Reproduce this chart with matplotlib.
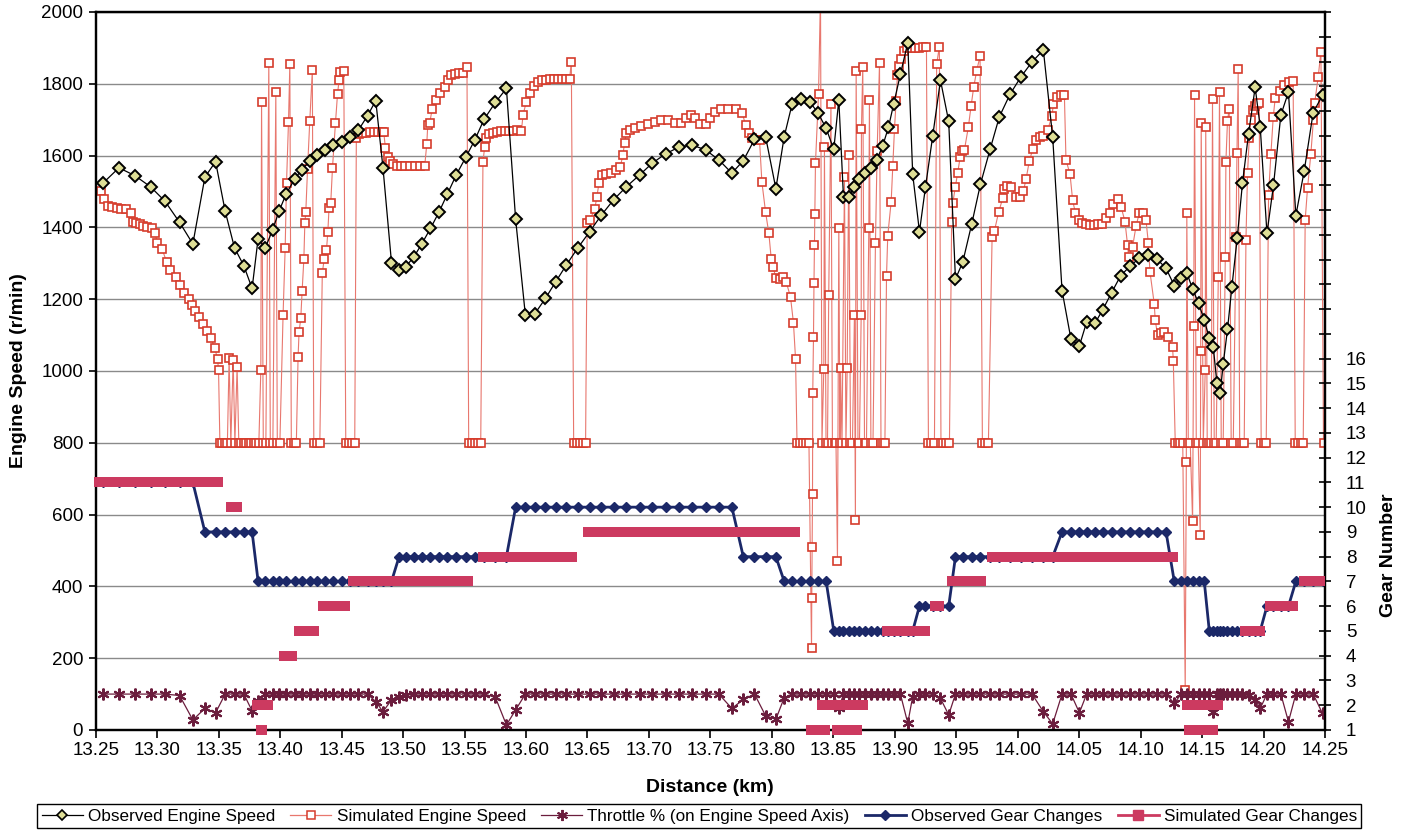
## Engine speed / gear change comparison, observed vs simulated
import numpy as np
import matplotlib
matplotlib.use('Agg')
import matplotlib.pyplot as plt
from matplotlib.lines import Line2D
from matplotlib.ticker import FixedLocator, FuncFormatter

plt.rcParams['font.family'] = ['Liberation Sans', 'DejaVu Sans']

## Observed data (distance km, engine speed r/min, gear, throttle %)
obs_km = [
    13.2561, 13.2689, 13.2819, 13.2946, 13.3063, 13.3182, 13.3290,
    13.3388, 13.3475, 13.3553, 13.3629, 13.3705, 13.3772,
    13.3821, 13.3878, 13.3938, 13.3992, 13.4049, 13.4117, 13.4176, 13.4241, 13.4304,
    13.4369, 13.4431, 13.4502, 13.4569, 13.4637, 13.4711, 13.4778, 13.4837, 13.4906,
    13.4968, 13.5022, 13.5087, 13.5152, 13.5223, 13.5293, 13.5361, 13.5434, 13.5510,
    13.5583, 13.5659, 13.5751, 13.5841,
    13.5916, 13.5995, 13.6073, 13.6158, 13.6241, 13.6328, 13.6420, 13.6518, 13.6613,
    13.6713, 13.6816, 13.6924, 13.7028, 13.7136, 13.7247, 13.7353, 13.7461, 13.7569, 13.7675,
    13.7768, 13.7859, 13.7949, 13.8033,
    13.8101, 13.8166, 13.8239, 13.8307, 13.8374, 13.8442,
    13.8504, 13.8545, 13.8583, 13.8624, 13.8672, 13.8713, 13.8759, 13.8808, 13.8854,
    13.8902, 13.8949, 13.8992, 13.9046, 13.9106, 13.9146,
    13.9201, 13.9250, 13.9309, 13.9372, 13.9439,
    13.9494, 13.9553, 13.9626, 13.9697, 13.9776, 13.9851, 13.9938, 14.0028, 14.0117,
    14.0209, 14.0285,
    14.0361, 14.0434, 14.0502, 14.0561, 14.0629, 14.0691, 14.0764, 14.0837, 14.0914,
    14.0989, 14.1063, 14.1136, 14.1207,
    14.1274, 14.1329, 14.1377, 14.1423, 14.1472, 14.1518,
    14.1559, 14.1591, 14.1621, 14.1648, 14.1672, 14.1707, 14.1743, 14.1786, 14.1829,
    14.1878, 14.1932, 14.1973,
    14.2028, 14.2081, 14.2141, 14.2203,
    14.2263, 14.2331, 14.2404, 14.2480,
]
obs_rpm = [
    1524, 1566, 1544, 1513, 1473, 1414, 1354,
    1540, 1583, 1445, 1343, 1293, 1230,
    1369, 1342, 1392, 1446, 1493, 1534, 1561, 1584, 1602,
    1616, 1630, 1637, 1653, 1671, 1711, 1753, 1565, 1302,
    1281, 1291, 1317, 1354, 1397, 1443, 1493, 1547, 1595,
    1643, 1701, 1748, 1787,
    1422, 1156, 1160, 1202, 1248, 1295, 1342, 1388, 1434,
    1477, 1513, 1546, 1579, 1605, 1624, 1629, 1616, 1588, 1551,
    1586, 1645, 1653, 1508,
    1653, 1745, 1757, 1750, 1720, 1676,
    1617, 1755, 1484, 1486, 1513, 1534, 1551, 1565, 1589,
    1627, 1679, 1745, 1827, 1914, 1548,
    1388, 1512, 1655, 1810, 1695,
    1256, 1303, 1409, 1520, 1618, 1708, 1771, 1820, 1861,
    1894, 1651,
    1224, 1088, 1070, 1136, 1133, 1170, 1218, 1265, 1292,
    1314, 1323, 1311, 1286,
    1238, 1258, 1272, 1229, 1188, 1142,
    1091, 1068, 966, 940, 1019, 1116, 1235, 1370, 1524,
    1660, 1790, 1681,
    1383, 1517, 1713, 1777,
    1433, 1557, 1720, 1768,
]
obs_gear = [
    11, 11, 11, 11, 11, 11, 11,
    9, 9, 9, 9, 9, 9,
    7, 7, 7, 7, 7, 7, 7, 7, 7,
    7, 7, 7, 7, 7, 7, 7, 7, 7,
    8, 8, 8, 8, 8, 8, 8, 8, 8,
    8, 8, 8, 8,
    10, 10, 10, 10, 10, 10, 10, 10, 10,
    10, 10, 10, 10, 10, 10, 10, 10, 10, 10,
    8, 8, 8, 8,
    7, 7, 7, 7, 7, 7,
    5, 5, 5, 5, 5, 5, 5, 5, 5,
    5, 5, 5, 5, 5, 5,
    6, 6, 6, 6, 6,
    8, 8, 8, 8, 8, 8, 8, 8, 8,
    8, 8,
    9, 9, 9, 9, 9, 9, 9, 9, 9,
    9, 9, 9, 9,
    7, 7, 7, 7, 7, 7,
    5, 5, 5, 5, 5, 5, 5, 5, 5,
    5, 5, 5,
    6, 6, 6, 6,
    7, 7, 7, 7,
]
throttle_pct = [
    100, 100, 100, 100, 100, 96, 28,
    60, 48, 100, 100, 100, 53,
    80, 100, 100, 100, 100, 100, 100, 100, 100,
    100, 100, 100, 100, 100, 100, 79, 51, 84,
    91, 97, 100, 100, 100, 100, 100, 100, 100,
    100, 100, 91, 14,
    56, 100, 100, 100, 100, 100, 100, 100, 100,
    100, 100, 100, 100, 100, 100, 100, 100, 100, 60,
    85, 100, 40, 30,
    90, 100, 100, 100, 100, 100,
    100, 60, 100, 100, 100, 100, 100, 100, 100,
    100, 100, 100, 100, 19, 93,
    100, 100, 100, 88, 42,
    100, 100, 100, 100, 100, 100, 100, 100, 100,
    51, 17,
    100, 100, 48, 100, 100, 100, 100, 100, 100,
    100, 100, 100, 100,
    74, 100, 100, 100, 100, 100,
    100, 51, 100, 100, 100, 100, 100, 100, 100,
    97, 84, 60,
    100, 100, 100, 23,
    100, 100, 100, 46,
]

## Simulated engine speed (distance km, r/min)
sim_km = [
    13.2507, 13.2540, 13.2567, 13.2597, 13.2632, 13.2670, 13.2705, 13.2746, 13.2786, 13.2800,
    13.2827, 13.2859, 13.2888, 13.2914, 13.2954, 13.2984, 13.3000, 13.3041, 13.3076, 13.3103,
    13.3150, 13.3185, 13.3217, 13.3255, 13.3280, 13.3306, 13.3337, 13.3374, 13.3402, 13.3437,
    13.3469, 13.3491, 13.3499, 13.3510, 13.3530, 13.3550, 13.3571, 13.3585, 13.3599, 13.3618,
    13.3632, 13.3650, 13.3664, 13.3685, 13.3705, 13.3725, 13.3746, 13.3766, 13.3786, 13.3807,
    13.3827, 13.3843, 13.3849, 13.3863, 13.3884, 13.3908, 13.3920, 13.3941, 13.3965, 13.3977,
    13.3998, 13.4024, 13.4041, 13.4052, 13.4068, 13.4079, 13.4091, 13.4111, 13.4132, 13.4146,
    13.4154, 13.4168, 13.4179, 13.4193, 13.4201, 13.4209, 13.4223, 13.4241, 13.4262, 13.4274,
    13.4298, 13.4323, 13.4343, 13.4358, 13.4377, 13.4388, 13.4398, 13.4412, 13.4426, 13.4450,
    13.4467, 13.4480, 13.4491, 13.4518, 13.4534, 13.4559, 13.4583, 13.4607, 13.4620, 13.4640,
    13.4664, 13.4697, 13.4729, 13.4762, 13.4794, 13.4827, 13.4843, 13.4857, 13.4878, 13.4892,
    13.4916, 13.4949, 13.4981, 13.5014, 13.5054, 13.5095, 13.5136, 13.5176, 13.5193, 13.5201,
    13.5217, 13.5236, 13.5272, 13.5298, 13.5339, 13.5366, 13.5394, 13.5420, 13.5453, 13.5485,
    13.5520, 13.5534, 13.5559, 13.5583, 13.5607, 13.5632, 13.5650, 13.5664, 13.5678, 13.5697,
    13.5729, 13.5762, 13.5794, 13.5827, 13.5859, 13.5892, 13.5924, 13.5963, 13.5976, 13.6003,
    13.6030, 13.6063, 13.6098, 13.6128, 13.6160, 13.6193, 13.6225, 13.6258, 13.6290, 13.6323,
    13.6355, 13.6369, 13.6388, 13.6412, 13.6437, 13.6461, 13.6485, 13.6498, 13.6518, 13.6559,
    13.6577, 13.6594, 13.6621, 13.6654, 13.6694, 13.6735, 13.6767, 13.6789, 13.6802, 13.6816,
    13.6843, 13.6884, 13.6938, 13.6992, 13.7046, 13.7101, 13.7154, 13.7209, 13.7263, 13.7304,
    13.7345, 13.7372, 13.7412, 13.7467, 13.7499, 13.7534, 13.7589, 13.7642, 13.7711, 13.7759,
    13.7786, 13.7813, 13.7841, 13.7873, 13.7900, 13.7919, 13.7949, 13.7976, 13.7995, 13.8008,
    13.8036, 13.8063, 13.8089, 13.8117, 13.8152, 13.8176, 13.8193, 13.8205, 13.8229, 13.8254,
    13.8278, 13.8302, 13.8323, 13.8325, 13.8328, 13.8331, 13.8333, 13.8339, 13.8343, 13.8347,
    13.8351, 13.8355, 13.8380, 13.8396, 13.8408, 13.8423, 13.8428, 13.8441, 13.8453, 13.8463,
    13.8481, 13.8493, 13.8510, 13.8522, 13.8534, 13.8545, 13.8554, 13.8559, 13.8571, 13.8591,
    13.8603, 13.8613, 13.8626, 13.8640, 13.8656, 13.8672, 13.8680, 13.8686, 13.8701, 13.8713,
    13.8727, 13.8729, 13.8740, 13.8754, 13.8770, 13.8789, 13.8794, 13.8806, 13.8823, 13.8843,
    13.8857, 13.8876, 13.8888, 13.8904, 13.8920, 13.8933, 13.8943, 13.8971, 13.8984, 13.8998,
    13.9011, 13.9022, 13.9038, 13.9054, 13.9079, 13.9103, 13.9136, 13.9168, 13.9201, 13.9233,
    13.9258, 13.9274, 13.9298, 13.9323, 13.9341, 13.9363, 13.9376, 13.9396, 13.9420, 13.9445,
    13.9463, 13.9472, 13.9493, 13.9512, 13.9532, 13.9545, 13.9567, 13.9599, 13.9621, 13.9642,
    13.9667, 13.9694, 13.9713, 13.9737, 13.9762, 13.9792, 13.9810, 13.9845, 13.9878, 13.9892,
    13.9916, 13.9946, 13.9987, 14.0022, 14.0046, 14.0068, 14.0095, 14.0122, 14.0150, 14.0182,
    14.0209, 14.0244, 14.0280, 14.0290, 14.0320, 14.0353, 14.0380, 14.0393, 14.0426, 14.0447,
    14.0469, 14.0496, 14.0526, 14.0558, 14.0591, 14.0624, 14.0656, 14.0689, 14.0719, 14.0751,
    14.0778, 14.0813, 14.0841, 14.0873, 14.0894, 14.0902, 14.0935, 14.0963, 14.0989, 14.1022,
    14.1044, 14.1063, 14.1076, 14.1111, 14.1119, 14.1138, 14.1168, 14.1193, 14.1219, 14.1260,
    14.1266, 14.1282, 14.1302, 14.1323, 14.1343, 14.1363, 14.1372, 14.1376, 14.1388, 14.1404,
    14.1423, 14.1432, 14.1439, 14.1453, 14.1469, 14.1485, 14.1489, 14.1493, 14.1510, 14.1526,
    14.1530, 14.1542, 14.1558, 14.1575, 14.1585, 14.1599, 14.1615, 14.1632, 14.1642, 14.1656,
    14.1672, 14.1689, 14.1694, 14.1707, 14.1721, 14.1737, 14.1754, 14.1776, 14.1784, 14.1794,
    14.1806, 14.1827, 14.1843, 14.1857, 14.1870, 14.1884, 14.1897, 14.1911, 14.1932, 14.1949,
    14.1965, 14.1981, 14.2002, 14.2022, 14.2041, 14.2060, 14.2079, 14.2095, 14.2133, 14.2168,
    14.2209, 14.2241, 14.2258, 14.2282, 14.2306, 14.2323, 14.2339, 14.2358, 14.2385, 14.2406,
    14.2416, 14.2445, 14.2467, 14.2488,
]
sim_rpm = [
    1513, 1501, 1479, 1460, 1456, 1454, 1452, 1451, 1440, 1416,
    1413, 1410, 1405, 1402, 1398, 1383, 1356, 1339, 1304, 1281,
    1261, 1240, 1216, 1200, 1184, 1167, 1151, 1131, 1110, 1091,
    1063, 1033, 1003, 800, 800, 800, 800, 1035, 800, 1030,
    800, 1012, 800, 800, 800, 800, 800, 800, 800, 800,
    800, 1003, 1750, 800, 800, 1857, 800, 800, 1778, 800,
    800, 1156, 1342, 1523, 1693, 1854, 800, 800, 800, 1038,
    1108, 1147, 1223, 1311, 1411, 1444, 1562, 1695, 1838, 800,
    800, 800, 1272, 1311, 1337, 1386, 1455, 1469, 1566, 1690,
    1772, 1811, 1834, 1837, 800, 800, 800, 800, 1650, 1660,
    1663, 1664, 1665, 1665, 1666, 1666, 1665, 1620, 1595, 1585,
    1576, 1572, 1571, 1570, 1570, 1570, 1570, 1570, 1632, 1685,
    1690, 1729, 1755, 1775, 1792, 1811, 1824, 1828, 1830, 1831,
    1848, 800, 800, 800, 800, 800, 1581, 1625, 1650, 1660,
    1664, 1667, 1668, 1669, 1669, 1669, 1670, 1668, 1713, 1750,
    1773, 1794, 1806, 1810, 1811, 1812, 1812, 1812, 1813, 1813,
    1813, 1862, 800, 800, 800, 800, 800, 1412, 1420, 1450,
    1486, 1523, 1546, 1550, 1552, 1560, 1569, 1602, 1636, 1662,
    1671, 1678, 1682, 1688, 1694, 1699, 1699, 1692, 1690, 1706,
    1713, 1704, 1688, 1688, 1706, 1722, 1729, 1729, 1731, 1720,
    1685, 1662, 1648, 1643, 1643, 1527, 1443, 1383, 1313, 1290,
    1258, 1255, 1262, 1248, 1206, 1134, 1034, 800, 800, 800,
    800, 800, 228, 368, 509, 658, 938, 1096, 1245, 1351,
    1437, 1578, 1772, 2050, 800, 1005, 1625, 800, 800, 1212,
    1743, 800, 800, 800, 472, 1397, 800, 1007, 800, 1541,
    800, 1007, 1602, 800, 800, 1156, 584, 1837, 800, 800,
    1156, 1673, 1848, 800, 800, 1397, 1755, 800, 800, 1357,
    1614, 1857, 800, 800, 800, 1264, 1376, 1472, 1571, 1675,
    1752, 1825, 1850, 1870, 1890, 1900, 1900, 1901, 1901, 1902,
    1902, 800, 800, 800, 1855, 1903, 800, 800, 800, 800,
    1416, 1467, 1513, 1552, 1595, 1612, 1616, 1680, 1738, 1790,
    1837, 1877, 800, 800, 800, 1374, 1389, 1442, 1481, 1506,
    1515, 1513, 1486, 1486, 1500, 1534, 1585, 1617, 1643, 1653,
    1655, 1671, 1711, 1744, 1764, 1770, 1770, 1588, 1548, 1476,
    1441, 1420, 1412, 1410, 1408, 1408, 1409, 1410, 1425, 1439,
    1465, 1478, 1458, 1416, 1351, 1318, 1346, 1404, 1439, 1439,
    1420, 1357, 1277, 1187, 1142, 1100, 1105, 1109, 1096, 1068,
    1029, 800, 800, 800, 800, 110, 747, 1439, 800, 800,
    582, 1125, 1770, 800, 800, 542, 1056, 1690, 800, 1004,
    1680, 800, 800, 800, 1759, 800, 800, 1262, 1776, 800,
    800, 1318, 1583, 1697, 1731, 800, 800, 1372, 1606, 1840,
    800, 800, 800, 1365, 1551, 1648, 1699, 1727, 1738, 1744,
    1746, 800, 800, 800, 1490, 1604, 1707, 1760, 1781, 1797,
    1806, 1808, 800, 800, 800, 800, 1421, 1509, 1604, 1699,
    1746, 1820, 1889, 800,
]

## Simulated gear: runs of the same gear (start km, end km, gear)
sim_gear_start = [
    13.2530, 13.3599, 13.3693, 13.3732, 13.3767, 13.3794, 13.3802, 13.3808, 13.3821, 13.3815,
    13.3843, 13.3965, 13.4034, 13.4156, 13.4347, 13.4591, 13.5648, 13.6502, 13.8241, 13.8258,
    13.8282, 13.8290, 13.8294, 13.8298, 13.8306, 13.8315, 13.8412, 13.8518, 13.8534, 13.8794,
    13.8867, 13.8941, 13.9331, 13.9469, 13.9794, 14.1331, 14.1343, 14.1347, 14.1355, 14.1367,
    14.1376, 14.1392, 14.1707, 14.1776, 14.1851, 14.2054, 14.2327,
]
sim_gear_end = [
    13.3498, 13.3648, 13.3693, 13.3732, 13.3767, 13.3794, 13.3802, 13.3808, 13.3821, 13.3904,
    13.3851, 13.3965, 13.4095, 13.4274, 13.4526, 13.5526, 13.6372, 13.8189, 13.8241, 13.8258,
    13.8282, 13.8290, 13.8294, 13.8298, 13.8306, 13.8433, 13.8745, 13.8518, 13.8689, 13.8794,
    13.8867, 13.9246, 13.9363, 13.9705, 14.1266, 14.1331, 14.1343, 14.1347, 14.1355, 14.1367,
    14.1628, 14.1587, 14.1707, 14.1776, 14.1969, 14.2241, 14.2461,
]
sim_gear = [
    11, 10, 9, 8, 7, 6, 5, 4, 3, 2,
    1, 3, 4, 5, 6, 7, 8, 9, 8, 7,
    6, 5, 4, 3, 2, 1, 2, 3, 1, 3,
    4, 5, 6, 7, 8, 7, 6, 5, 4, 3,
    2, 1, 3, 4, 5, 6, 7,
]

assert len(sim_km) == len(sim_rpm)
assert len(obs_km) == len(obs_rpm) == len(obs_gear) == len(throttle_pct)

## Colours
c_obs = 'black'
c_obs_fill = '#dede96'
c_sim_line = '#e8776e'
c_sim_edge = '#d63c2c'
c_thr = '#6b1d3d'
c_obs_gear = '#1b2868'
c_sim_gear = '#cc3a60'

## Making plot
fig = plt.figure(figsize=(14.1, 8.38), dpi=100)
ax = fig.add_axes([0.0679, 0.1289, 0.8718, 0.8568])

ax.plot(sim_km, sim_rpm, color=c_sim_line, lw=0.8, marker='s', ms=6.4,
        mfc='white', mec=c_sim_edge, mew=1.2, zorder=2)
ax.plot(obs_km, throttle_pct, color=c_thr, lw=0.9, marker=(6, 2, 0), ms=8.5,
        mew=1.5, mec=c_thr, zorder=3)
ax.plot(obs_km, obs_rpm, color=c_obs, lw=0.9, marker='D', ms=5.8,
        mfc=c_obs_fill, mec='black', mew=1.4, zorder=4)

ax.set_xlim(13.25, 14.25)
ax.set_ylim(0, 2000)
ax.set_xticks(np.arange(13.25, 14.2501, 0.05))
ax.xaxis.set_major_formatter(FuncFormatter(lambda v, p: '%.2f' % v))
ax.set_yticks(range(0, 2001, 200))
ax.yaxis.grid(True, color='#8a8a8a', lw=1.0)
ax.set_axisbelow(True)
ax.tick_params(axis='x', direction='out', length=6, width=1.2, pad=3, labelsize=13.5)
ax.tick_params(axis='y', direction='out', length=5, width=1.2, pad=4, labelsize=13.5)
for s in ax.spines.values():
    s.set_linewidth(1.6)

ax.set_xlabel('Distance (km)', fontsize=14, fontweight='bold')
ax.xaxis.set_label_coords(0.5, -0.068)
ax.set_ylabel('Engine Speed (r/min)', fontsize=14, fontweight='bold')
ax.yaxis.set_label_coords(-0.056, 0.5)

## Gear axis on the right
ax2 = ax.twinx()
ax2.plot(obs_km, obs_gear, color=c_obs_gear, lw=2.0, marker='D', ms=5,
         mfc=c_obs_gear, mec=c_obs_gear, zorder=2)
ax2.hlines(sim_gear, sim_gear_start, sim_gear_end, colors=c_sim_gear,
           linewidth=7.2, capstyle='projecting', zorder=3, clip_on=False)
ax2.set_ylim(1, 30)
ax2.yaxis.set_major_locator(FixedLocator(range(1, 31)))
ax2.yaxis.set_major_formatter(FuncFormatter(lambda v, p: '%d' % v if v <= 16 else ''))
ax2.tick_params(axis='y', direction='inout', length=8, width=1.2, pad=11, labelsize=13.5)
for s in ax2.spines.values():
    s.set_linewidth(1.6)
ax2.set_ylabel('Gear Number', fontsize=14, fontweight='bold')
ax2.yaxis.set_label_coords(1.045, 0.244)

## Legend along the bottom
handles = [
    Line2D([], [], color=c_obs, lw=0.9, marker='D', ms=5.5, mfc=c_obs_fill, mec='black', mew=1.2),
    Line2D([], [], color=c_sim_line, lw=0.9, marker='s', ms=6, mfc='white', mec=c_sim_edge, mew=1.1),
    Line2D([], [], color=c_thr, lw=0.9, marker=(6, 2, 0), ms=8, mew=1.4, mec=c_thr),
    Line2D([], [], color=c_obs_gear, lw=2.0, marker='D', ms=5, mfc=c_obs_gear, mec=c_obs_gear),
    Line2D([], [], color=c_sim_gear, lw=2.0, marker='s', ms=6.5, mfc=c_sim_gear, mec=c_sim_gear),
]
labels = ['Observed Engine Speed', 'Simulated Engine Speed', 'Throttle % (on Engine Speed Axis)',
          'Observed Gear Changes', 'Simulated Gear Changes']
leg = fig.legend(handles, labels, loc='lower center', bbox_to_anchor=(0.496, 0.002), ncol=5,
                 fontsize=12.3, frameon=True, fancybox=False, edgecolor='black', framealpha=1,
                 borderpad=0.25, columnspacing=0.9, handlelength=2.4, handletextpad=0.3)
leg.get_frame().set_linewidth(1.0)

fig.savefig('out.png', dpi=100, facecolor='white')
